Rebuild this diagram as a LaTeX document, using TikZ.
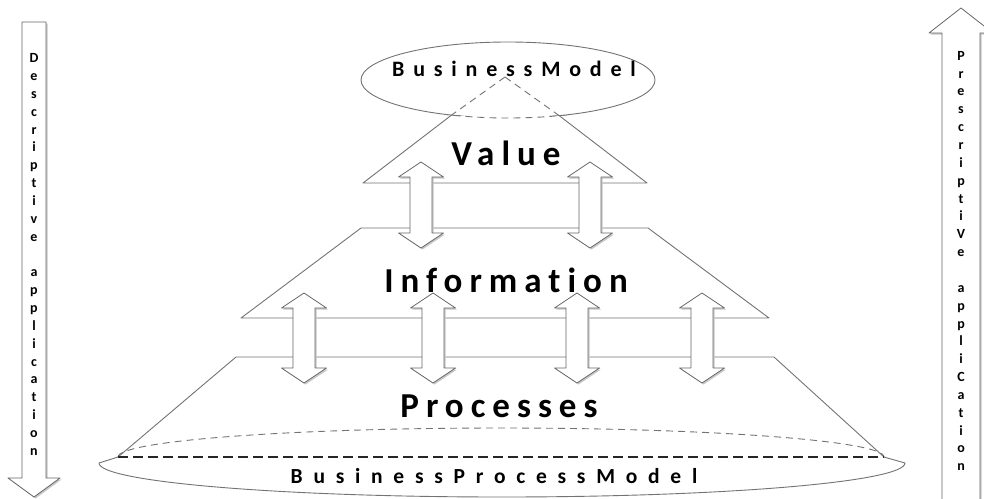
\documentclass[tikz,border=0pt]{standalone}
\usepackage{fontspec}
\setmainfont{Carlito}
\newfontfamily\lsmid{Carlito}[LetterSpace=20,Ligatures=NoCommon]
\newfontfamily\lsbm{Carlito}[LetterSpace=40,Ligatures=NoCommon]
\newfontfamily\lsbpm{Carlito}[LetterSpace=50,Ligatures=NoCommon]
\newcommand\DblArr[3]{%
  \fill[shd,xshift=1.5pt,yshift=-1.5pt] (#1-11,#2+15) -- (#1-22.5,#2+15) -- (#1,#2) -- (#1+22.5,#2+15) -- (#1+11,#2+15) -- (#1+11,#3-15) -- (#1+22.5,#3-15) -- (#1,#3) -- (#1-22.5,#3-15) -- (#1-11,#3-15) -- cycle;
  \draw[arr] (#1-11,#2+15) -- (#1-22.5,#2+15) -- (#1,#2) -- (#1+22.5,#2+15) -- (#1+11,#2+15) -- (#1+11,#3-15) -- (#1+22.5,#3-15) -- (#1,#3) -- (#1-22.5,#3-15) -- (#1-11,#3-15) -- cycle;}
\begin{document}
\begin{tikzpicture}[x=1pt,y=-1pt,line join=round,
  ln/.style={draw=black!55,line width=0.9pt},
  hid/.style={dash pattern=on 7pt off 5pt},
  arr/.style={draw=black!60,fill=white,line width=0.8pt},
  shd/.style={fill=black!22,draw=none},
  midtxt/.style={font=\lsmid\bfseries\fontsize{35}{40}\selectfont,inner sep=0pt},
  bmtxt/.style={font=\lsbm\bfseries\fontsize{22}{25}\selectfont,inner sep=0pt},
  bpmtxt/.style={font=\lsbpm\bfseries\fontsize{21.5}{25}\selectfont,inner sep=0pt},
  sidetxt/.style={font=\bfseries\fontsize{14}{17.85}\selectfont,align=center,inner sep=0pt}]
\useasboundingbox (0,0) rectangle (984,498);
\fill[white] (0,0) rectangle (984,498);
\clip (0,0) rectangle (984,498);

% side arrows
\fill[shd,xshift=1.5pt,yshift=-1.5pt] (22,22) -- (46,22) -- (46,478) -- (60,478) -- (34,497) -- (8,478) -- (22,478) -- cycle;
\draw[arr] (22,22) -- (46,22) -- (46,478) -- (60,478) -- (34,497) -- (8,478) -- (22,478) -- cycle;
\fill[shd,xshift=1.5pt,yshift=-1.5pt] (942,505) -- (942,33) -- (929,33) -- (961,8) -- (993,33) -- (980,33) -- (980,505) -- cycle;
\draw[arr] (942,505) -- (942,33) -- (929,33) -- (961,8) -- (993,33) -- (980,33) -- (980,505) -- cycle;
\node[sidetxt] (desc) at (34,254.5) {D\\e\\s\\c\\r\\i\\p\\t\\i\\v\\e\\[17.85pt]a\\p\\p\\l\\i\\c\\a\\t\\i\\o\\n};
\node[sidetxt] (pres) at (961,261) {P\\r\\e\\s\\c\\r\\i\\p\\t\\i\\V\\e\\[17.85pt]a\\p\\p\\l\\i\\C\\a\\t\\i\\o\\n};

% top ellipse (business model)
\coordinate (apex) at (505,77);
\coordinate (tl) at (451,115.5);
\coordinate (tr) at (559,115.5);
\coordinate (vl) at (363,183);
\coordinate (vr) at (647,183);
\begin{scope}
  \clip (300,30) rectangle (720,115.5);
  \draw[ln] (508,80) ellipse [x radius=147pt, y radius=38pt];
\end{scope}
\begin{scope}
  \clip (300,115.5) rectangle (720,130);
  \draw[ln,hid] (508,80) ellipse [x radius=147pt, y radius=38pt];
\end{scope}
\draw[ln,hid] (apex) -- (tl) (apex) -- (tr);
\draw[ln] (tl) -- (vl) -- (vr) -- (tr);

% information layer
\coordinate (il) at (361,228);
\coordinate (ir) at (648,228);
\coordinate (ibl) at (241,318);
\coordinate (ibr) at (769,318);
\draw[ln] (ibl) -- (il) -- (ir) -- (ibr) -- cycle;

% processes layer
\coordinate (pl) at (236,357);
\coordinate (pr) at (774,357);
\coordinate (bl) at (118,457);
\coordinate (br) at (884,457);
\draw[ln] (bl) -- (pl) -- (pr) -- (br);

% bottom ellipse (business process model)
\draw[ln] (bl) -- (99,463) arc[start angle=180,end angle=360,x radius=403pt,y radius=34pt] -- (br);
\draw[ln,hid] (bl) arc[start angle=180,end angle=0,x radius=383pt,y radius=29pt];
\draw[draw=black!85,line width=1.3pt,dash pattern=on 10pt off 5pt] (bl) -- (br);

% double arrows
\DblArr{421}{162}{248}
\DblArr{590}{162}{248}
\DblArr{304}{293}{383}
\DblArr{433}{293}{383}
\DblArr{577}{293}{383}
\DblArr{702}{293}{383}

% texts
\node[bmtxt] (bm) at (514,69) {BusinessModel};
\node[midtxt] (val) at (506,153) {Value};
\node[midtxt] (info) at (506,280) {Information};
\node[midtxt] (proc) at (499,406) {Processes};
\node[bpmtxt] (bpm) at (494,476) {BusinessProcessModel};
\end{tikzpicture}
\end{document}
